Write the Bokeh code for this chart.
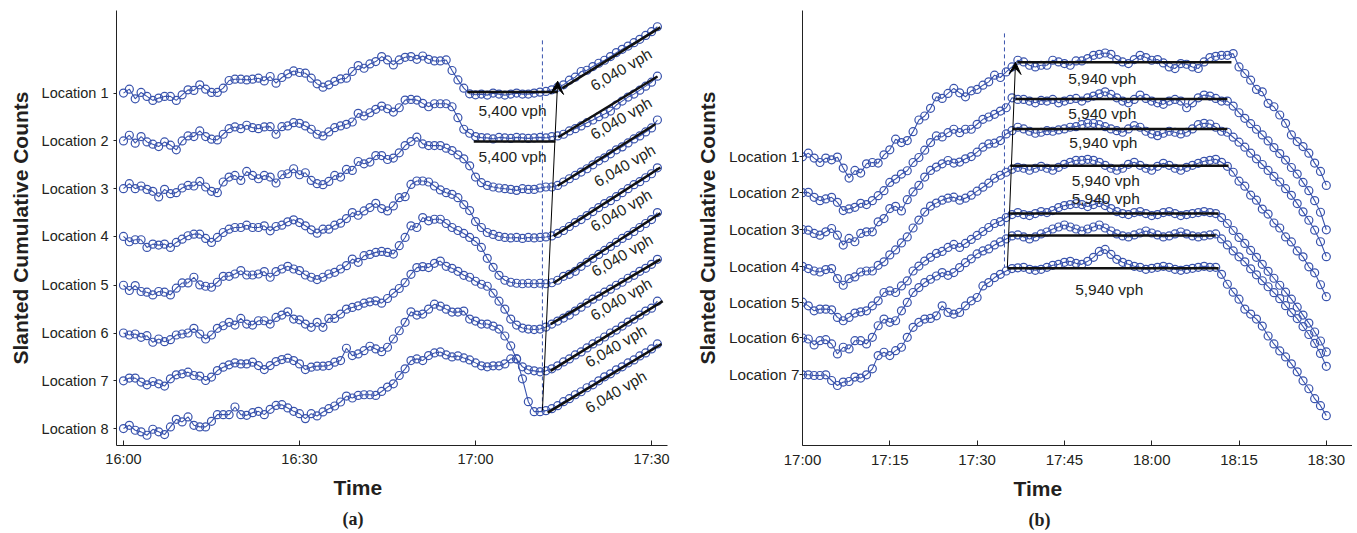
import math
from bokeh.plotting import figure
from bokeh.models import FixedTicker, Title, Arrow, VeeHead
from bokeh.layouts import row
from bokeh.embed import file_html
from bokeh.resources import INLINE
from bokeh.core.properties import value

BLUE = "#3953ad"
INK = "#231f20"
SANS = "Liberation Sans"
SERIF = "Liberation Serif"

# ---------------- panel (a): 16:00 - 17:31, one sample per minute ----------------
A_MINUTES = list(range(92))
A_TICKS = [0, 30, 60, 90]
A_TICK_LABELS = ["16:00", "16:30", "17:00", "17:30"]
A_LOCATIONS = ["Location 1", "Location 2", "Location 3", "Location 4",
               "Location 5", "Location 6", "Location 7", "Location 8"]
A_BASE = [0, -48, -96, -144, -193, -241, -289, -337]

A_L1 = [0, 4, -5.7, 0.7, -3.3, -7.3, -5, -3.3, -3.3, -7.3,
        -1.7, 3.3, 2.7, 8.3, 4, 0.7, 0.7, 5, 12.7, 14,
        14, 13.3, 14, 15, 12.3, 16.7, 10, 15.7, 19.3, 22.3,
        20.7, 20, 15, 9.3, 6, 8.3, 11.7, 14.3, 15, 21.7,
        27.7, 25, 29.3, 31.7, 36.7, 33.3, 28.3, 33.3, 36, 36.7,
        34, 37.3, 34, 32.3, 32.3, 33.3, 22.7, 13.3, 5, -0.7,
        -1.7, -1, -2, 0, -1, -2, -1, 0, -1, -1,
        0, 1, 1.7, 3.3, 6, 8.3, 13, 16, 21.7, 23,
        26.7, 30, 33, 36.7, 40.7, 44, 47.3, 50.7, 54, 58,
        61.7, 66.7]
A_L2 = [0, 5.7, -2.3, 4.3, -1, -3.3, -5.7, -1, -4.3, -9,
        0, 5, 4.3, 10, 4.3, 1.7, 1, 6.7, 12.3, 14,
        12.3, 15.7, 13.3, 12.3, 14, 14.3, 6.7, 14.3, 15, 18.3,
        17.7, 15, 11.7, 6.7, 5, 9, 13.3, 15, 16.7, 19,
        27.7, 25, 28.3, 31.7, 35, 32.3, 29, 33.3, 41, 41.7,
        41, 37.7, 34.3, 37.3, 37.3, 37.3, 34.3, 23.3, 11.7, 7.7,
        4.3, 3.3, 3, 2, 3.5, 3, 2.5, 3.5, 3, 2.5,
        3, 3.5, 3, 4.3, 5, 6.7, 10, 12.3, 15, 18.3,
        21, 24.3, 27, 30, 36, 40, 44, 47, 51, 55,
        59, 65]
A_L3 = [0, 5, 0, 2.7, -0.7, -2.7, -8.3, -0.7, -5, -4,
        0.7, 3.3, 2.7, 7.3, 1.7, -2.7, -4, 6.7, 11.7, 13.3,
        8.3, 17.3, 13.3, 10, 13.3, 11.7, 5.7, 14, 15, 20,
        14, 16, 8.3, 5, 4, 7.3, 13.3, 11.7, 19.3, 18.3,
        27.3, 25, 26.7, 33.3, 33.3, 29.3, 30.7, 36, 43.3, 47.3,
        51.7, 45, 43.3, 43.3, 43.3, 40.7, 38.3, 34, 30, 23,
        11.7, 6, 3.3, 1.7, 0.7, 0, -0.7, -1.7, 0, -0.7,
        -0.7, 0.7, 1.7, 1.7, 3.3, 6.7, 10, 13.3, 16.7, 20,
        24, 28, 31, 35, 39, 42, 46, 50, 53, 57,
        61, 69]
A_L4 = [0, -5.3, -3.3, -3.3, -11, -7.7, -8.7, -7.7, -11, -6,
        -2.7, 0.7, 2.3, 2.3, -2, -6, -1, 4, 7.3, 9,
        9, 11.3, 9, 9, 10.7, 5.7, 10, 11.3, 14.7, 16.7,
        14, 10.7, 6.7, 3.3, 7.3, 7.3, 11.3, 13.3, 18, 24,
        21.3, 25.7, 29, 33.3, 28, 25.7, 30.7, 39, 40, 52.3,
        55.7, 55.7, 54.7, 50.7, 46.7, 44, 42.3, 39, 32, 26,
        15, 9, 4, 2, 0, -1, -1.5, -1, -2, -1,
        -1.5, -1, -0.5, 0.5, 3, 6, 10, 14, 17, 21,
        25, 29, 33, 36, 40, 44, 48, 52, 55, 59,
        63, 69]
A_L5 = [0, -5.3, -0.3, -6.3, -7, -9.7, -6.3, -7, -9.7, -3,
        2.3, 2.3, 8, 0.3, -1, -2, 3, 9, 9, 11.3,
        14.7, 10.3, 10.3, 11.3, 13.7, 8, 13.7, 16.3, 19, 16.3,
        14.7, 10.3, 8, 5.7, 8, 11.3, 13, 16.3, 19.7, 26.3,
        23, 29.7, 31, 33, 34, 33, 31.3, 39.7, 48, 59.7,
        58, 68, 64.7, 66.3, 66.3, 62, 58, 55, 52, 48,
        44, 38, 27, 18, 10, 5, 3, 2, 1.5, 2,
        1.5, 2, 1.5, 2.5, 5, 9, 11, 14, 19, 23,
        27, 31, 35, 39, 43, 47, 50, 54, 58, 62,
        66, 73]
A_L6 = [0, -2, -1, -4.3, -2.7, -9.3, -6, -8.7, -6.7, -2,
        -1, 0, 4.7, -1, -6, -2, 4.7, 7.3, 10.7, 8,
        14.7, 9, 8, 12.3, 12.3, 9, 15.7, 18, 21.3, 14,
        13.3, 9, 5.7, 10.7, 5.7, 14.7, 14.7, 19, 24, 25.7,
        27.3, 30, 31.3, 32.3, 30, 34.7, 40, 44.7, 50.7, 59,
        65.7, 66.7, 65.7, 70, 72.3, 67, 65, 62, 58, 56,
        52, 49, 47, 40, 32, 24, 14, 8, 5, 4,
        3.5, 4, 6, 9, 12, 15, 18, 22, 26, 30,
        34, 37, 41, 44, 48, 51, 55, 58, 62, 65,
        69, 74]
A_L7 = [0, 2.7, 2.7, -1.3, -4, -0.7, -3, -5.3, 2, 6,
        7, 8.7, 5.3, 4.7, 0.3, 3.7, 10.3, 13.7, 16, 18,
        17, 17, 18.7, 15.3, 11.3, 15.3, 19.3, 21.3, 22.7, 20.3,
        17, 11.3, 13.7, 14.7, 14.7, 15.3, 18.7, 20.3, 32.7, 25.3,
        27, 30.3, 34.7, 32, 29.3, 33.7, 42, 50.3, 58.7, 69.3,
        66, 67, 72, 77, 75, 72, 69, 69, 70, 62,
        60, 57, 57, 55, 52, 45, 35, 22, 14, 11,
        10, 9, 10, 12, 15, 19, 22, 26, 29, 33,
        37, 40, 44, 48, 51, 55, 59, 62, 66, 70,
        73, 80]
A_L8 = [0, 3.3, -1.7, -3.3, -6.7, -0.7, -3.3, -6, 1.7, 9.3,
        6.7, 11.7, 3.3, 1.7, 1.7, 7.3, 14, 14, 14, 21.7,
        14, 13.3, 16, 17.3, 14, 19.3, 23.3, 24, 20.7, 17.3,
        15, 10, 15, 12.7, 16.7, 20, 22.7, 26.7, 32.7, 30.7,
        33.3, 34, 34, 33.3, 37.3, 41.7, 45, 53.3, 60, 68.3,
        70, 68.3, 73.3, 76, 77, 74, 72, 73, 71, 69,
        66, 63, 62, 63, 63, 65, 70, 70, 50, 27,
        17, 17, 18, 20, 23, 27, 30, 34, 37, 41,
        44, 48, 52, 55, 59, 62, 66, 69, 73, 76,
        80, 85]
A_SERIES = [A_L1, A_L2, A_L3, A_L4, A_L5, A_L6, A_L7, A_L8]

# 5,400 vph flat fits (locations 1, 2)
A_FLAT_LOC = [0, 1]
A_FLAT_T0 = [58.6, 59.7]
A_FLAT_T1 = [74.0, 73.6]
A_FLAT_D = [1, -0.5]
A_FLAT_LBL_T = [66.3, 66.3]
A_FLAT_LBL_Y = [-17, -64]
A_FLAT_TEXT = "5,400 vph"

# 6,040 vph rising fits (all locations)
A_FIT_T0 = [74.8, 74.1, 74.0, 73.3, 73.3, 72.8, 72.8, 72.3]
A_FIT_T1 = [91.5, 91.0, 90.7, 91.5, 91.5, 91.5, 91.9, 91.7]
A_FIT_D0 = [5, 3.7, 3, 0.3, 2.3, 9, 10, 16]
A_FIT_D1 = [66, 64.7, 65, 69.3, 72.3, 74, 80, 85]
A_FIT_LBL_T = [84.8, 84.8, 85.4, 84.8, 85.0, 84.8, 83.9, 83.9]
A_FIT_LBL_Y = [23.7, -25.3, -72.7, -117.7, -163, -207, -254, -300]
A_FIT_TEXT = "6,040 vph"

A_WAVE_T = [71.4, 74.0]        # shock wave arrow (tail, tip)
A_WAVE_Y = [-319, 12]
A_DASH_T = 71.4
A_DASH_Y = [53, -317]

# ---------------- panel (b): 17:00 - 18:30, one sample per minute ----------------
B_MINUTES = list(range(91))
B_TICKS = [0, 15, 30, 45, 60, 75, 90]
B_TICK_LABELS = ["17:00", "17:15", "17:30", "17:45", "18:00", "18:15", "18:30"]
B_LOCATIONS = ["Location 1", "Location 2", "Location 3", "Location 4",
               "Location 5", "Location 6", "Location 7"]
B_BASE = [0, -36, -73, -110, -146, -182, -219]

B_L1 = [0, 3.7, -1.3, -5.7, -1.3, -3, -0.3, -11.3, -21.3, -13.7,
        -16.3, -7, -5.7, -6.3, 2, 7, 17.7, 14.3, 16.3, 25.3,
        37, 41, 48.7, 60.3, 58.7, 63.7, 68.7, 64.3, 60.3, 66.3,
        67.7, 72, 75.3, 82, 79.7, 85.3, 90.3, 97,
        95.3, 92, 90.3, 92, 92, 97, 95.3, 93.7, 92, 96.3, 96.3, 98.7, 102, 103, 104.3, 103,
        97.7, 95.3, 93.7, 97.7, 102, 99.7, 97, 97.7, 94.3, 90.3, 88.7, 93.7, 93, 90.3, 88.7,
        95.3, 99.7, 101, 102, 102,
        103.7,
        90.3, 83.7, 77, 67.7, 65.3, 53.7, 50.3, 42, 33.7, 22, 15.3, 10.3, 3.7, -6.3, -14.7, -28.7]
B_L2 = [0, 0.3, -4.7, -8, -6.3, -4.7, -9.7, -18, -16.3, -14.7,
        -10.7, -12, -8, -3, 2, 10.3, 13.7, 18.7, 22, 30.3,
        35.3, 42.7, 50.3, 57, 56, 60.3, 63.7, 60.3, 63.7, 63.7,
        68.7, 73.7, 76, 78.7, 82, 85.3, 95.3, 93.7,
        93.7, 92, 90.3, 92.7, 92, 93.7, 90.3, 92, 93.7, 94.7, 92, 95.3, 97, 99.3, 101.3, 98.7,
        95.3, 92, 90.3, 93.7, 98, 94.7, 92, 90.3, 88.7, 92, 93.7, 92, 85.3, 90.3, 95.3, 98,
        97, 94.7, 92, 92,
        87, 80.3, 74.7, 69.3, 63.7, 58, 52, 45.3, 39.3, 32.7, 25.3, 18.7, 10.3, 2, -8, -19.7, -37.3]
B_L3 = [0, -0.7, -4, -5.7, -2.3, 1, -5.7, -15.7, -9, -12.3,
        -4, -2.3, -2.3, 7.7, 11, 21, 23.3, 18.7, 30, 37.7,
        44.3, 52.7, 59.3, 62.7, 66, 69.3, 66.7, 67.7, 71, 73.3,
        77.7, 82.7, 86, 86.7, 89.3, 96, 99.3, 102.7,
        101, 98.7, 96.7, 97.7, 99.3, 98.7, 100, 101, 102.7, 103.3, 105.3, 106.7, 106.7, 105.3,
        103.3, 101, 99.3, 97.7, 101, 104.3, 102.7, 98.7, 96, 94.3, 96.7, 98.7, 97.7, 96, 97.7,
        101, 105.3, 106.7, 106, 102.7, 98.7, 97.7,
        92.7, 87.7, 82.7, 76.7, 71, 65.3, 59.3, 53.3, 47.7, 41, 34.3, 26, 17.7, 9.3, -0.7, -12.3, -27.3]
B_L4 = [0, -2.3, -4.7, -5.7, -3.3, -2.3, -12.3, -19, -12.3, -10.7, -5.7, -4.7, -4.7, 1,
        4.5, 11.5, 16.5, 23.5, 29.5, 38.5, 46.5, 54.5, 60.5, 63.5, 66.5, 68.5, 69.5, 66.5,
        68.5, 71.5, 75.5, 79.5, 83.5, 88.5, 91.5, 94.5, 97.5, 99.5,
        98.5, 96.5, 98.5, 100.5, 98.5, 96.5, 99.5, 102.5, 104.5, 106.5, 106.5, 107.5, 106.5,
        104.5, 101.5, 98.5, 96.5, 98.5, 102.5, 104.5, 101.5, 98.5, 96.5, 100.5, 103.5, 101.5,
        98.5, 96.5, 99.5, 101.5, 103.5, 105.5, 106.5, 107.5, 104.5, 100.5,
        94.5, 85.5, 80.5, 71.5, 66.5, 57.5, 52.5, 43.5, 38.5, 29.5, 24.5, 15.5, 9.5, -0.5, -6.5, -18.5, -30.5]
B_L5 = [0, -3.7, -8.7, -7, -7, -7.7, -15.3, -18.7, -15.3, -11, -9.7, -8.7, -3.7, 1.3,
        9.7, 11.3, 9.7, 16.3, 21.3, 31.3, 36.3, 41.3,
        45, 49, 51, 55, 58, 55, 59, 63, 67, 71, 75, 79, 81, 85, 88, 90,
        88, 87, 89, 91, 90, 92, 95, 97, 98, 99, 98, 96, 98, 100, 97, 94, 91, 89, 88, 90,
        91, 89, 87, 88, 90, 91, 89, 87, 88, 89, 90, 91, 90, 89,
        85, 79, 72, 65, 59, 52, 45, 38, 31, 24, 17, 10, 3, -5, -13, -21, -30, -39, -50]
B_L6 = [0, -1, -7, -2.7, -1.7, -6, -16, -9.3, -11, -2.7, -2.7, -6, 0.7, 12.3, 19, 15.7,
        17.3, 27.3, 35.7, 45.7, 50.7, 55.7, 59, 62.3, 65.7, 63, 65.7, 70.7, 75.7,
        79.5, 84.5, 87.5, 89.5, 93.5, 96.5, 99.5, 102.5, 103.5,
        101.5, 99.5, 101.5, 104.5, 106.5, 109.5, 111.5, 113.5, 111.5, 109.5, 107.5, 109.5,
        111.5, 113.5, 110.5, 107.5, 104.5, 102.5, 101.5, 103.5, 105.5, 107.5, 105.5, 103.5,
        101.5, 102.5, 104.5, 106.5, 104.5, 102.5, 101.5, 102.5, 103.5, 104.5,
        99.5, 93.5, 87.5, 81.5, 76.5, 69.5, 63.5, 57.5, 51.5, 45.5, 39.5, 32.5, 25.5, 19.5,
        11.5, 3.5, -5.5, -15.5, -28.5]
B_L7 = [0, 0, -0.7, -0.7, 0, -5.7, -10.7, -7.3, -6.7, -2.3, -3.3, 0, 6, 19.3, 22.7, 19.3,
        24.3, 27.7, 37.7, 47.7, 52.7, 56, 56.7, 59.3, 69.3, 62.7, 61, 62.7, 69.3, 74.3, 77.7,
        89.3, 92.7, 97.7, 101, 104.3, 106.7, 107.5,
        108, 106, 105, 106, 108, 110, 111, 113, 114, 112, 111, 114, 118, 124, 126, 121, 116,
        113, 111, 109, 108, 106, 107, 108, 109, 108, 106, 105, 106, 107, 108, 109, 108, 108,
        101, 91, 83, 76, 66, 61, 56, 49, 39, 31, 24, 18, 11, 3, -6, -14, -24, -31, -41]
B_SERIES = [B_L1, B_L2, B_L3, B_L4, B_L5, B_L6, B_L7]

# 5,940 vph flat fits
B_FLAT_T0 = [36.9, 36.6, 36.1, 35.7, 35.4, 35.4, 35.2]
B_FLAT_T1 = [73.7, 73.0, 73.0, 73.2, 71.5, 71.0, 71.5]
B_FLAT_Y = [95, 58, 28, -9, -57, -79, -112]
B_LBL_T = [51.5, 51.5, 51.7, 52.1, 52.1, 52.7]
B_LBL_Y = [79, 44, 14, -24, -42, -133]
B_TEXT = "5,940 vph"

B_WAVE_T = [35.2, 36.6]
B_WAVE_Y = [-111, 95]
B_DASH_T = 34.7
B_DASH_Y = [124, -111]

HEIGHT = 533


def make_panel(width, border_left, border_right, x_range, y_range,
               ticks, tick_labels, bases, locations, tick_font, loc_font, loc_standoff):
    p = figure(width=width, height=HEIGHT, x_range=x_range, y_range=y_range,
               min_border_left=border_left, min_border_right=border_right,
               min_border_top=10, min_border_bottom=HEIGHT - 447,
               toolbar_location=None, output_backend="svg",
               outline_line_color=None, background_fill_color="white",
               border_fill_color="white")
    p.grid.visible = False
    for ax in (p.xaxis, p.yaxis):
        ax.axis_line_color = "#222222"
        ax.axis_line_width = 1
        ax.major_tick_line_color = "#222222"
        ax.minor_tick_line_color = None
        ax.major_label_text_font = SANS
        ax.major_label_text_color = INK
    p.xaxis.ticker = FixedTicker(ticks=ticks)
    p.xaxis.major_label_overrides = {t: l for t, l in zip(ticks, tick_labels)}
    p.xaxis.major_tick_in = 5
    p.xaxis.major_tick_out = 0
    p.xaxis.major_label_standoff = 5
    p.xaxis.major_label_text_font_size = tick_font
    p.yaxis.ticker = FixedTicker(ticks=bases)
    p.yaxis.major_label_overrides = {b: l for b, l in zip(bases, locations)}
    p.yaxis.major_tick_in = 0
    p.yaxis.major_tick_out = 3
    p.yaxis.major_label_standoff = loc_standoff
    p.yaxis.major_label_text_font_size = loc_font
    return p


def add_series(p, minutes, bases, series):
    for base, vals in zip(bases, series):
        ys = [base + v for v in vals]
        p.line(minutes, ys, line_color=BLUE, line_width=1.1)
        p.scatter(minutes, ys, marker="circle", size=8, fill_color=None,
                  line_color=BLUE, line_width=1.2)


def add_outer_labels(p, time_offset, panel_offset, panel_text, ylab_offset):
    p.add_layout(Title(text="Time", align="left", offset=time_offset, standoff=9,
                       text_font=SANS, text_font_size="21px", text_font_style="bold",
                       text_color=INK), "below")
    p.add_layout(Title(text=panel_text, align="left", offset=panel_offset, standoff=7,
                       text_font=SERIF, text_font_size="18px", text_font_style="bold",
                       text_color=INK), "below")
    p.add_layout(Title(text="Slanted Cumulative Counts", align="center", offset=ylab_offset,
                       vertical_align="top", standoff=10,
                       text_font=SANS, text_font_size="21px", text_font_style="bold",
                       text_color=INK), "left")


# ---------- build panel (a) ----------
pa = make_panel(690, 116, 23, (-1.19, 92.72), (-354, 83), A_TICKS, A_TICK_LABELS,
                A_BASE, A_LOCATIONS, "14.5px", "14.5px", 5)
add_series(pa, A_MINUTES, A_BASE, A_SERIES)
pa.line([A_DASH_T, A_DASH_T], A_DASH_Y, line_color=BLUE, line_width=1, line_dash="4 3")
pa.segment(x0=A_FLAT_T0, x1=A_FLAT_T1,
           y0=[A_BASE[i] + d for i, d in zip(A_FLAT_LOC, A_FLAT_D)],
           y1=[A_BASE[i] + d for i, d in zip(A_FLAT_LOC, A_FLAT_D)],
           line_color="#111111", line_width=2.5)
pa.segment(x0=A_FIT_T0, x1=A_FIT_T1,
           y0=[b + d for b, d in zip(A_BASE, A_FIT_D0)],
           y1=[b + d for b, d in zip(A_BASE, A_FIT_D1)],
           line_color="#111111", line_width=2.5)
pa.text(x=A_FLAT_LBL_T, y=A_FLAT_LBL_Y, text=[A_FLAT_TEXT] * len(A_FLAT_LBL_T),
        text_font=value(SANS), text_font_size="15.5px", text_color=INK,
        text_align="center", text_baseline="middle")
pa.text(x=A_FIT_LBL_T, y=A_FIT_LBL_Y, text=[A_FIT_TEXT] * len(A_FIT_LBL_T),
        angle=0.53, text_font=value(SANS), text_font_size="15.5px", text_color=INK,
        text_align="center", text_baseline="middle")
pa.add_layout(Arrow(end=VeeHead(size=13, fill_color="black", line_color="black", line_width=1),
                    x_start=A_WAVE_T[0], y_start=A_WAVE_Y[0],
                    x_end=A_WAVE_T[1], y_end=A_WAVE_Y[1],
                    line_color="black", line_width=1))
add_outer_labels(pa, 217, 226, "(a)", -12)

# ---------- build panel (b) ----------
pb = make_panel(662, 112, 0, (0, 94.5), (-290, 147), B_TICKS, B_TICK_LABELS,
                B_BASE, B_LOCATIONS, "15px", "15.3px", 0)
add_series(pb, B_MINUTES, B_BASE, B_SERIES)
pb.line([B_DASH_T, B_DASH_T], B_DASH_Y, line_color=BLUE, line_width=1, line_dash="4 3")
pb.segment(x0=B_FLAT_T0, x1=B_FLAT_T1, y0=B_FLAT_Y, y1=B_FLAT_Y,
           line_color="#111111", line_width=2.5)
pb.text(x=B_LBL_T, y=B_LBL_Y, text=[B_TEXT] * len(B_LBL_T),
        text_font=value(SANS), text_font_size="15.5px", text_color=INK,
        text_align="center", text_baseline="middle")
pb.add_layout(Arrow(end=VeeHead(size=12, fill_color="black", line_color="black", line_width=1),
                    x_start=B_WAVE_T[0], y_start=B_WAVE_Y[0],
                    x_end=B_WAVE_T[1], y_end=B_WAVE_Y[1],
                    line_color="black", line_width=1))
add_outer_labels(pb, 211, 226, "(b)", -12)

layout = row(pa, pb)
open("out.html", "w").write(file_html(layout, INLINE))
